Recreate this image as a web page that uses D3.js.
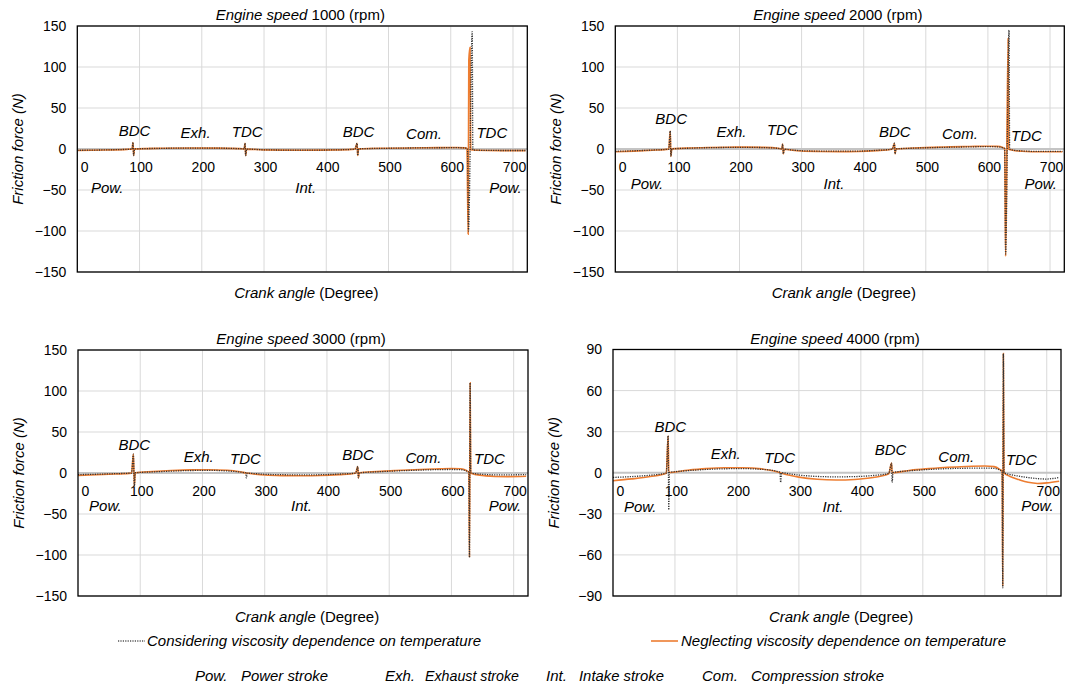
<!DOCTYPE html>
<html><head><meta charset="utf-8">
<script src="https://cdn.jsdelivr.net/npm/d3@7"></script>
<style>
body{margin:0;background:#fff}
svg{display:block}
text{font-family:"Liberation Sans",Arial,Helvetica,sans-serif;fill:#000}
</style>
</head><body>
<svg id="c" width="1067" height="690"></svg>
<script>
// ---------------- DATA ----------------
const speeds = [1000, 2000, 3000, 4000];
const xTicks = [0, 100, 200, 300, 400, 500, 600, 700];
const yTicksLarge = [-150, -100, -50, 0, 50, 100, 150];
const yTicksSmall = [-90, -60, -30, 0, 30, 60, 90];

// [crank angle (deg), friction force (N)]
const considering1000 = [[0,-1.6],[45,-1.1],[80,-0.4],[88,-0.1],[89.5,8],[90.5,-8],[92,0.1],[135,0.8],[180,1.1],[225,1.0],[262,0.4],[268,0.1],[269.5,7],[270.5,-8],[272,-0.1],[300,-1.0],[360,-1.4],[420,-1.0],[446,-0.2],[449.5,7],[450.5,-8],[452,0.2],[500,0.9],[560,1.4],[610,1.6],[622,1.3],[627,0.4],[628.5,-100],[634.5,143],[635.5,-1],[640,-1.4],[680,-1.8],[720,-1.8]];
const neglecting1000 = [[0,-1.8],[45,-1.2],[80,-0.4],[88,-0.1],[89.5,8],[90.5,-8],[92,0.1],[135,0.9],[180,1.2],[225,1.1],[262,0.4],[268,0.1],[269.5,7],[270.5,-8],[272,-0.1],[300,-1.1],[360,-1.6],[420,-1.1],[446,-0.2],[449.5,7],[450.5,-8],[452,0.2],[500,1.0],[560,1.5],[610,1.8],[622,1.4],[626,0.5],[628,-104],[629,108],[631,124],[632,-1],[640,-1.5],[680,-2],[720,-2]];

const considering2000 = [[0,-2.8],[30,-2.2],[60,-1.3],[86,-0.2],[88.5,22],[89.5,-9],[91,0.2],[120,1.0],[150,1.6],[180,1.9],[210,2.0],[240,1.7],[262,0.8],[268,0.2],[269.5,6],[270.5,-6],[272,-0.3],[285,-1.3],[300,-2.1],[330,-2.6],[360,-2.7],[390,-2.6],[420,-1.7],[446,-0.2],[449.5,7],[450.5,-6],[452,0.2],[480,1.0],[510,1.7],[540,2.2],[570,2.6],[600,2.9],[615,2.7],[624,1.5],[627,0.4],[628.5,-128],[634,145],[635,0],[640,-1.3],[655,-2.4],[670,-2.8],[690,-2.9],[720,-2.8]];
const neglecting2000 = [[0,-3.3],[30,-2.6],[60,-1.5],[86,-0.2],[88.5,22],[89.5,-9],[91,0.2],[120,1.2],[150,1.8],[180,2.2],[210,2.3],[240,2.0],[262,0.9],[268,0.2],[269.5,6],[270.5,-6],[272,-0.3],[285,-1.5],[300,-2.4],[330,-3.0],[360,-3.2],[390,-3.0],[420,-2.0],[446,-0.2],[449.5,7],[450.5,-6],[452,0.2],[480,1.2],[510,2.0],[540,2.6],[570,3.0],[600,3.4],[615,3.2],[624,1.8],[627,0.5],[628.5,-131],[632.5,135],[633.5,0],[640,-1.5],[655,-2.8],[670,-3.3],[690,-3.4],[720,-3.3]];

const considering3000 = [[0,-2.0],[30,-1.5],[60,-0.8],[86,-0.1],[89,23],[90.5,-16],[92,0.3],[120,1.3],[150,2.3],[180,3.0],[210,3.2],[240,2.5],[260,1.2],[268,0.4],[269.5,0.2],[270.5,-6],[272,-0.3],[285,-0.8],[300,-1.6],[330,-2.1],[360,-2.3],[390,-2.1],[420,-1.3],[446,-0.2],[449.5,8],[450.5,-6],[452,0.2],[480,1.4],[510,2.5],[540,3.3],[570,4.0],[600,4.3],[615,4.0],[624,2.5],[628,1],[629,-103],[630,110],[631,0],[640,-1.0],[655,-1.8],[670,-2.2],[690,-2.2],[720,-2.0]];
const neglecting3000 = [[0,-2.9],[30,-2.2],[60,-1.3],[86,-0.2],[89,23],[90.5,-16],[92,0.3],[120,1.8],[150,3.0],[180,3.8],[210,4.0],[240,3.3],[260,1.5],[270,0],[285,-1.5],[300,-2.5],[330,-3.2],[360,-3.4],[390,-3.1],[420,-2.0],[446,-0.3],[449.5,8],[450.5,-6],[452,0.3],[480,1.8],[510,3.0],[540,4.0],[570,4.8],[600,5.5],[615,5.2],[624,3.0],[628,1],[629,-103],[630,110],[631,0],[640,-2.0],[655,-3.5],[670,-4.2],[690,-4.4],[720,-4.0]];

const considering4000 = [[0,-3.4],[30,-2.8],[60,-1.8],[86,-0.3],[89,27],[90,-27],[91,0.2],[120,1.5],[150,2.4],[180,2.9],[210,3.0],[240,2.5],[260,1.5],[268,0.6],[269.5,0.4],[270.5,-7],[272,0],[285,-0.8],[300,-1.7],[330,-2.7],[360,-3.0],[390,-2.8],[420,-2.0],[445,-0.5],[449.5,7],[450.5,-7],[452,0.2],[480,1.5],[510,2.4],[540,3.0],[570,3.3],[600,3.4],[615,3.2],[624,2.0],[628,0.8],[629,-84],[630,87],[631,0],[640,-1.2],[655,-2.5],[670,-3.5],[685,-4.3],[700,-4.6],[710,-4.2],[720,-3.5]];
const neglecting4000 = [[0,-5.8],[30,-4.5],[60,-2.8],[86,-0.4],[89,27],[90,0.2],[120,1.8],[150,3.0],[180,3.6],[210,3.6],[240,2.8],[260,1.3],[270,0],[285,-1.8],[300,-3.2],[330,-4.8],[360,-5.3],[390,-4.9],[420,-3.5],[445,-0.8],[449.5,7],[450.5,0],[480,1.8],[510,3.0],[540,4.0],[570,4.6],[600,4.9],[615,4.5],[624,2.5],[628,1],[629,-83],[630,87],[631,0],[640,-2.5],[655,-5.0],[670,-7.0],[685,-7.8],[700,-7.4],[720,-6.2]];

// stroke annotations: [text, crank angle, force]
const labels1000 = [["BDC",92,16],["Exh.",190,13.6],["TDC",273,15],["BDC",452,15],["Com.",557,12.3],["TDC",666,13.2],["Pow.",48,-54],["Int.",367,-54],["Pow.",688,-54]];
const labels2000 = [["BDC",90,30.6],["Exh.",187,15],["TDC",269,17],["BDC",450,14.3],["Com.",555,12.3],["TDC",662,10.2],["Pow.",51,-49],["Int.",352,-49],["Pow.",685,-49]];
const labels3000 = [["BDC",90.5,27.9],["Exh.",194,13.5],["TDC",269,10.7],["BDC",450,16.4],["Com.",555,12.3],["TDC",661,10.7],["Pow.",44,-46.7],["Int.",359,-46.7],["Pow.",686,-46.7]];
const labels4000 = [["BDC",92.5,29.9],["Exh.",182,10],["TDC",269,6.8],["BDC",448,12.9],["Com.",554,8],["TDC",659,5.6],["Pow.",44,-29],["Int.",355,-29],["Pow.",685,-27.7]];

const seriesNames = ["Considering viscosity dependence on temperature", "Neglecting viscosity dependence on temperature"];
const strokeAbbr = ["Pow.", "Exh.", "Int.", "Com."];
const strokeNames = ["Power stroke", "Exhaust stroke", "Intake stroke", "Compression stroke"];

// ---------------- LAYOUT ----------------
const panels = [
  {speed: speeds[0], yTicks: yTicksLarge, con: considering1000, neg: neglecting1000, labels: labels1000, L: 77.3, T: 26, W: 450, H: 246},
  {speed: speeds[1], yTicks: yTicksLarge, con: considering2000, neg: neglecting2000, labels: labels2000, L: 615.3, T: 26, W: 449, H: 246},
  {speed: speeds[2], yTicks: yTicksLarge, con: considering3000, neg: neglecting3000, labels: labels3000, L: 78, T: 350, W: 450, H: 246},
  {speed: speeds[3], yTicks: yTicksSmall, con: considering4000, neg: neglecting4000, labels: labels4000, L: 613, T: 349.5, W: 448, H: 246.5}
];
const ORANGE = "#ED7D31", DOT = "#333333";

const svg = d3.select("#c");

panels.forEach((p, i) => {
  const x = d3.scaleLinear().domain([0, 723]).range([p.L, p.L + p.W]);
  const y = d3.scaleLinear().domain([p.yTicks[0], p.yTicks[p.yTicks.length - 1]]).range([p.T + p.H, p.T]);
  const g = svg.append("g");

  // grid
  g.selectAll(".vg").data(xTicks.filter(t => t > 0)).enter().append("line")
    .attr("x1", d => x(d)).attr("x2", d => x(d)).attr("y1", p.T).attr("y2", p.T + p.H)
    .attr("stroke", "#d9d9d9").attr("stroke-width", 1);
  g.selectAll(".hg").data(p.yTicks.filter(t => t !== 0)).enter().append("line")
    .attr("x1", p.L).attr("x2", p.L + p.W).attr("y1", d => y(d)).attr("y2", d => y(d))
    .attr("stroke", "#d9d9d9").attr("stroke-width", 1);
  // zero axis line
  g.append("line").attr("x1", p.L).attr("x2", p.L + p.W).attr("y1", y(0)).attr("y2", y(0))
    .attr("stroke", "#c4c4c4").attr("stroke-width", 2);

  // y axis labels
  const ya = g.append("g").attr("transform", `translate(${p.L},0)`)
    .call(d3.axisLeft(y).tickValues(p.yTicks).tickSize(0).tickPadding(11));
  ya.select(".domain").remove();
  ya.selectAll("text").attr("font-size", 14).attr("font-family", "Liberation Sans, Arial, sans-serif").attr("fill", "#000");

  // x axis labels at zero line
  const xa = g.append("g").attr("transform", `translate(0,${y(0)})`)
    .call(d3.axisBottom(x).tickValues(xTicks).tickSize(0).tickPadding(13));
  xa.select(".domain").remove();
  xa.selectAll("text").attr("font-size", 14).attr("font-family", "Liberation Sans, Arial, sans-serif").attr("fill", "#000")
    .attr("dx", 1);
  xa.selectAll(".tick").filter(d => d === 0).select("text").attr("text-anchor", "start").attr("dx", 3);

  // clip
  const cid = "clip" + i;
  svg.append("clipPath").attr("id", cid).append("rect")
    .attr("x", p.L).attr("y", p.T).attr("width", p.W).attr("height", p.H);

  const line = d3.line().x(d => x(d[0])).y(d => y(d[1])).curve(d3.curveMonotoneX);
  g.append("path").datum(p.neg).attr("d", line).attr("clip-path", `url(#${cid})`)
    .attr("fill", "none").attr("stroke", ORANGE).attr("stroke-width", 1.6);
  g.append("path").datum(p.con).attr("d", line).attr("clip-path", `url(#${cid})`)
    .attr("fill", "none").attr("stroke", DOT).attr("stroke-width", 1.3).attr("stroke-dasharray", "1.2,1.2");

  // stroke annotations
  g.selectAll(".ann").data(p.labels).enter().append("text")
    .attr("x", d => x(d[1])).attr("y", d => y(d[2]))
    .attr("text-anchor", "middle").attr("font-size", 15).attr("font-style", "italic")
    .text(d => d[0]);

  // border
  g.append("rect").attr("x", p.L).attr("y", p.T).attr("width", p.W).attr("height", p.H)
    .attr("fill", "none").attr("stroke", "#000").attr("stroke-width", 1.3);

  // title
  const cx = p.L + p.W / 2;
  const t = g.append("text").attr("x", cx - 2).attr("y", p.T - 6).attr("text-anchor", "middle").attr("font-size", 15);
  t.append("tspan").attr("font-style", "italic").text("Engine speed ");
  t.append("tspan").text(p.speed + " (rpm)");

  // x title
  const xt = g.append("text").attr("x", cx + 4).attr("y", p.T + p.H + 26).attr("text-anchor", "middle").attr("font-size", 15);
  xt.append("tspan").attr("font-style", "italic").text("Crank angle ");
  xt.append("tspan").text("(Degree)");

  // y title
  g.append("text").attr("transform", `translate(${p.L - 54},${p.T + p.H / 2}) rotate(-90)`)
    .attr("text-anchor", "middle").attr("font-size", 15).attr("font-style", "italic")
    .text("Friction force (N)");
});

// ---------------- LEGEND ----------------
const lg = svg.append("g");
lg.append("line").attr("x1", 118).attr("x2", 145).attr("y1", 641).attr("y2", 641)
  .attr("stroke", "#555").attr("stroke-width", 1.3).attr("stroke-dasharray", "1.2,1.2");
lg.append("text").attr("x", 147).attr("y", 646).attr("font-size", 15).attr("font-style", "italic")
  .attr("textLength", 334).attr("lengthAdjust", "spacingAndGlyphs").text(seriesNames[0]);
lg.append("line").attr("x1", 651).attr("x2", 678).attr("y1", 641).attr("y2", 641)
  .attr("stroke", ORANGE).attr("stroke-width", 1.6);
lg.append("text").attr("x", 681).attr("y", 646).attr("font-size", 15).attr("font-style", "italic")
  .attr("textLength", 325).attr("lengthAdjust", "spacingAndGlyphs").text(seriesNames[1]);

const abbrX = [195, 385, 546, 702];
const nameX = [241, 425, 579, 751];
const nameW = [87, 94, 85, 133];
strokeAbbr.forEach((a, i) => {
  lg.append("text").attr("x", abbrX[i]).attr("y", 681).attr("font-size", 15).attr("font-style", "italic").text(a);
  lg.append("text").attr("x", nameX[i]).attr("y", 681).attr("font-size", 15).attr("font-style", "italic")
    .attr("textLength", nameW[i]).attr("lengthAdjust", "spacingAndGlyphs").text(strokeNames[i]);
});
</script>
</body></html>
